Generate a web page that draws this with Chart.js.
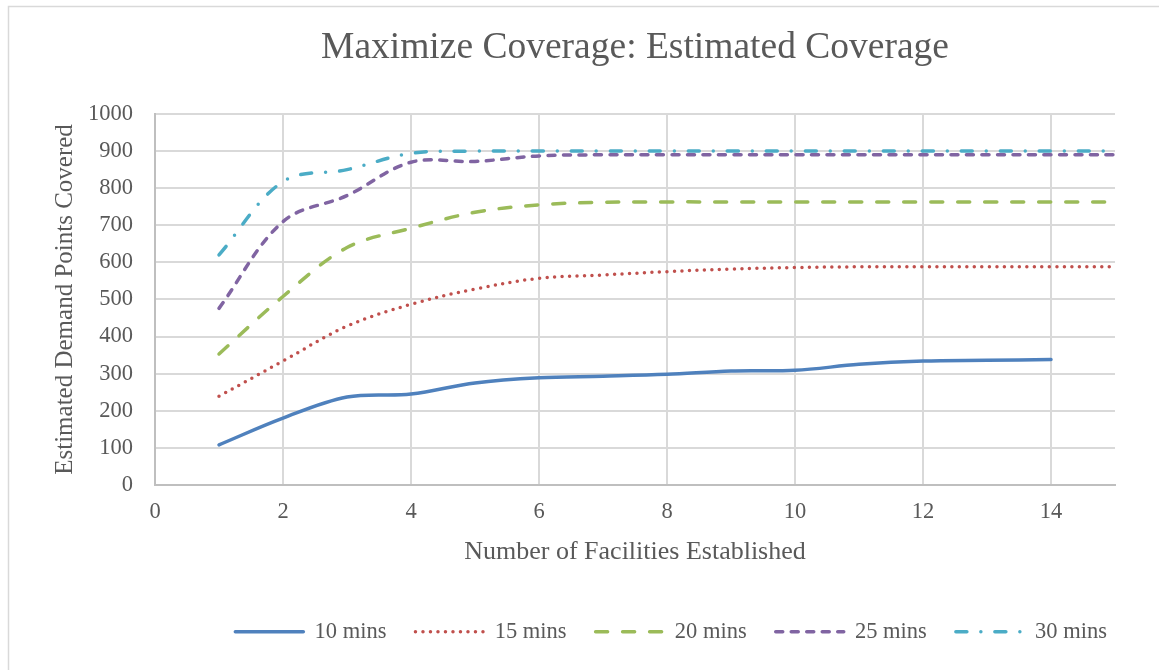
<!DOCTYPE html>
<html>
<head>
<meta charset="utf-8">
<script src="https://cdn.jsdelivr.net/npm/chart.js@4.4.1/dist/chart.umd.min.js"></script>
<style>
  html, body { margin: 0; padding: 0; background: #ffffff; }
  #wrap { width: 1159px; height: 670px; }
</style>
</head>
<body>
<div id="wrap"><canvas id="c" width="1159" height="670"></canvas></div>
<script>
// Number of facilities established (x values)
const facilities = [1, 2, 3, 4, 5, 6, 7, 8, 9, 10, 11, 12, 13, 14, 15];

// Estimated demand points covered for each response-time threshold
const cov10 = [108, 180, 237, 245, 275, 289, 293, 298, 307, 309, 325, 334, 336, 338];
const cov15 = [239, 334, 428, 487, 528, 557, 566, 575, 582, 586, 588, 588, 588, 588, 588];
const cov20 = [353, 508, 640, 692, 735, 755, 762, 763, 763, 763, 763, 763, 763, 763, 763];
const cov25 = [476, 710, 780, 870, 872, 887, 890, 890, 890, 890, 890, 890, 890, 890, 890];
const cov30 = [620, 818, 850, 894, 900, 900, 900, 900, 900, 900, 900, 900, 900, 900, 900];

const seriesNames = ['10 mins', '15 mins', '20 mins', '25 mins', '30 mins'];
const xTicks = [0, 2, 4, 6, 8, 10, 12, 14];
const yTicks = [0, 100, 200, 300, 400, 500, 600, 700, 800, 900, 1000];

const chartTitle = 'Maximize Coverage: Estimated Coverage';
const xTitle = 'Number of Facilities Established';
const yTitle = 'Estimated Demand Points Covered';

const textColor = '#595959';
const serif = '"Liberation Serif", "Times New Roman", serif';

function toPoints(values) {
  return values.map((v, i) => ({ x: facilities[i], y: v }));
}

const styles = [
  { color: '#4F81BD', dash: [], cap: 'round', width: 3.5 },
  { color: '#C0504D', dash: [0, 7.5], cap: 'round', width: 3.5 },
  { color: '#9BBB59', dash: [12, 15], cap: 'round', width: 3.5 },
  { color: '#8064A2', dash: [7, 8.5], cap: 'round', width: 3.5 },
  { color: '#4BACC6', dash: [11, 14, 0, 14], cap: 'round', width: 3.5 }
];

const allValues = [cov10, cov15, cov20, cov25, cov30];

const datasets = allValues.map((vals, i) => ({
  label: seriesNames[i],
  data: toPoints(vals),
  borderColor: styles[i].color,
  backgroundColor: styles[i].color,
  borderWidth: styles[i].width,
  borderDash: styles[i].dash,
  borderCapStyle: styles[i].cap,
  pointRadius: 0,
  pointHoverRadius: 0,
  tension: 0.35,
  fill: false
}));

// Chart frame, title centred over the plot area, legend nudged right
const framePlugin = {
  id: 'frame',
  afterLayout(chart) {
    const lg = chart.legend;
    if (lg) {
      lg.left += 21;
      lg.right += 21;
    }
  },
  beforeDraw(chart) {
    const ctx = chart.ctx;
    ctx.save();
    ctx.fillStyle = '#ffffff';
    ctx.fillRect(0, 0, chart.width, chart.height);
    ctx.strokeStyle = '#D9D9D9';
    ctx.lineWidth = 1.5;
    ctx.strokeRect(8.5, 6.5, chart.width + 20, chart.height + 20);
    ctx.restore();
  },
  afterDraw(chart) {
    const ctx = chart.ctx;
    const area = chart.chartArea;
    ctx.save();
    ctx.fillStyle = textColor;
    ctx.font = '37.5px ' + serif;
    ctx.textAlign = 'center';
    ctx.textBaseline = 'middle';
    ctx.fillText(chartTitle, (area.left + area.right) / 2, 48);
    ctx.restore();
  }
};

new Chart(document.getElementById('c'), {
  type: 'line',
  data: { datasets },
  plugins: [framePlugin],
  options: {
    responsive: false,
    animation: false,
    devicePixelRatio: 1,
    layout: { padding: { top: 114, right: 44, left: 44, bottom: 17 } },
    plugins: {
      title: { display: false },
      tooltip: { enabled: false },
      legend: {
        position: 'bottom',
        align: 'end',
        labels: {
          usePointStyle: true,
          pointStyleWidth: 68,
          boxHeight: 22,
          padding: 29,
          color: textColor,
          font: { family: serif, size: 22.5 },
          generateLabels(chart) {
            return chart.data.datasets.map((ds, i) => ({
              text: ds.label,
              fillStyle: ds.borderColor,
              strokeStyle: ds.borderColor,
              fontColor: textColor,
              lineWidth: ds.borderWidth,
              lineDash: ds.borderDash,
              lineCap: ds.borderCapStyle,
              pointStyle: 'line',
              hidden: false,
              datasetIndex: i
            }));
          }
        }
      }
    },
    scales: {
      x: {
        type: 'linear',
        min: 0,
        max: 15,
        afterBuildTicks(scale) {
          scale.ticks = xTicks.map(v => ({ value: v }));
        },
        afterFit(scale) {
          scale.height = 106.6;
        },
        grid: { color: '#D9D9D9', lineWidth: 2, drawTicks: false },
        border: { color: '#BFBFBF', width: 2 },
        ticks: {
          color: textColor,
          font: { family: serif, size: 22.5 },
          padding: 14,
          maxRotation: 0,
          callback: v => String(v)
        },
        title: {
          display: true,
          text: xTitle,
          color: textColor,
          font: { family: serif, size: 26 },
          padding: { top: 4, bottom: 24 }
        }
      },
      y: {
        type: 'linear',
        min: 0,
        max: 1000,
        afterBuildTicks(scale) {
          scale.ticks = yTicks.map(v => ({ value: v }));
        },
        afterFit(scale) {
          scale.width = 111;
        },
        grid: { color: '#D9D9D9', lineWidth: 2, drawTicks: false },
        border: { color: '#BFBFBF', width: 2 },
        ticks: {
          color: textColor,
          font: { family: serif, size: 22.5 },
          padding: 22,
          callback: v => String(v)
        },
        title: {
          display: true,
          text: yTitle,
          color: textColor,
          font: { family: serif, size: 25 },
          padding: { top: 6, bottom: 8 }
        }
      }
    }
  }
});
</script>
</body>
</html>
